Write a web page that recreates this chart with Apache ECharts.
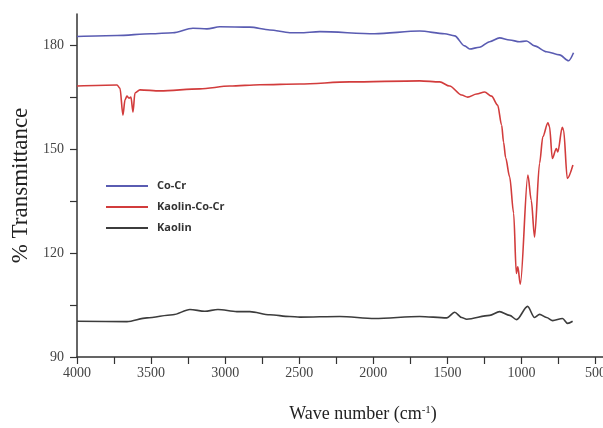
<!DOCTYPE html>
<html>
<head>
<meta charset="utf-8">
<script src="https://cdn.jsdelivr.net/npm/echarts@6/dist/echarts.min.js"></script>
<style>
    html, body { margin: 0; padding: 0; background: #fff; }
    #chart { width: 603px; height: 428px; }
</style>
</head>
<body>
<div id="chart"></div>
<script>
    // wave number (cm-1) , % transmittance
    let coCr = [[4000, 182.5], [3730, 182.8], [3501, 183.3], [3353, 183.6], [3218, 184.9], [3123, 184.7],
        [3036, 185.3], [2833, 185.2], [2699, 184.4], [2564, 183.6], [2496, 183.6], [2361, 183.9],
        [1991, 183.3], [1687, 184.1], [1519, 183.3], [1451, 182.7], [1384, 179.8], [1350, 178.9],
        [1283, 179.4], [1215, 181.0], [1148, 182.1], [1080, 181.5], [1013, 181.0], [966, 181.2],
        [912, 179.8], [831, 178.1], [743, 177.2], [682, 175.5], [649, 177.8]]

    let kaolinCoCr = [[4000, 168.2], [3730, 168.5], [3710, 167.6], [3690, 159.8], [3676, 164.2], [3663, 165.3],
        [3649, 164.7], [3636, 165.0], [3622, 160.7], [3609, 166.2], [3575, 167.1], [3440, 166.8],
        [3171, 167.4], [2968, 168.2], [2766, 168.6], [2496, 168.8], [2159, 169.4], [1687, 169.7],
        [1552, 169.4], [1485, 168.2], [1404, 165.6], [1363, 165.0], [1303, 165.9], [1249, 166.5],
        [1202, 165.3], [1161, 162.7], [1134, 156.9], [1121, 152.0], [1107, 147.5], [1080, 142.0],
        [1053, 131.5], [1035, 114.1], [1025, 116.0], [1008, 111.0], [957, 142.5], [934, 135.2],
        [912, 124.6], [878, 145.9], [856, 153.6], [822, 157.6], [811, 156.5], [792, 147.3],
        [765, 150.2], [755, 149.2], [725, 156.3], [716, 155.5], [691, 141.5], [653, 145.4]]

    let kaolin = [[4000, 100.3], [3663, 100.2], [3528, 101.3], [3353, 102.2], [3238, 103.7], [3137, 103.2],
        [3049, 103.7], [2921, 103.1], [2833, 103.1], [2699, 102.2], [2564, 101.7], [2496, 101.5],
        [2227, 101.7], [1991, 101.1], [1687, 101.7], [1505, 101.3], [1451, 102.9], [1404, 101.4],
        [1370, 100.9], [1215, 102.0], [1148, 103.1], [1080, 102.0], [1033, 100.8], [959, 104.6],
        [912, 101.4], [878, 102.3], [831, 101.4], [790, 100.5], [723, 101.1], [689, 99.7], [655, 100.3]]

    let xLabels = [4000, 3500, 3000, 2500, 2000, 1500, 1000, 500]
    let xTicks = [4000, 3750, 3500, 3250, 3000, 2750, 2500, 2250, 2000, 1750, 1500, 1250, 1000, 750, 500]
    let yLabels = [90, 120, 150, 180]
    let yTicks = [90, 105, 120, 135, 150, 165, 180]

    let names = ['Co-Cr', 'Kaolin-Co-Cr', 'Kaolin']
    let colors = ['#5a5cb2', '#d23c3c', '#3c3c3c']

    let serif = '"Liberation Serif", "DejaVu Serif", serif'

    let mychart = echarts.init(document.getElementById('chart'))
    let axisCommon = {
        axisLine: { lineStyle: { color: '#333', width: 1.5 } },
        axisTick: { inside: false, length: 7, lineStyle: { color: '#333', width: 1.2 } },
        splitLine: { show: false }
    }
    let plainNum = function (v) { return String(v) }
    let option = {
        animation: false,
        color: colors,
        grid: {
            left: 77,
            right: 0,
            top: 14,
            bottom: 71,
            containLabel: false,
            outerBoundsMode: 'none'
        },
        legend: {
            orient: 'vertical',
            left: 101,
            top: 174,
            icon: 'path://M0,0L42,0L42,2L0,2Z',
            itemWidth: 42,
            itemHeight: 2,
            itemGap: 7,
            data: names,
            textStyle: {
                fontFamily: '"Open Sans", sans-serif',
                fontWeight: 'bold',
                fontSize: 11,
                lineHeight: 14,
                color: '#333',
                padding: [0, 0, 0, 4]
            }
        },
        xAxis: Object.assign({}, axisCommon, {
            type: 'value',
            inverse: true,
            min: 450,
            max: 4000,
            axisTick: Object.assign({}, axisCommon.axisTick, { customValues: xTicks }),
            axisLabel: {
                customValues: xLabels,
                formatter: plainNum,
                margin: 9,
                fontFamily: serif,
                fontSize: 14,
                color: '#444'
            },
            name: '{a|Wave number (cm}{s|-1}{a|)}',
            nameLocation: 'middle',
            nameGap: 48,
            nameTextStyle: {
                padding: [0, 0, 0, 46],
                rich: {
                    a: { fontFamily: serif, fontSize: 18, color: '#222' },
                    s: { fontFamily: serif, fontSize: 11, color: '#222', verticalAlign: 'top', padding: [0, 0, 8, 0] }
                }
            }
        }),
        yAxis: Object.assign({}, axisCommon, {
            type: 'value',
            min: 90,
            max: 189,
            axisTick: Object.assign({}, axisCommon.axisTick, { customValues: yTicks }),
            axisLabel: {
                customValues: yLabels,
                formatter: plainNum,
                margin: 13,
                fontFamily: serif,
                fontSize: 14,
                color: '#444'
            },
            name: '% Transmittance',
            nameLocation: 'middle',
            nameGap: 45,
            nameTextStyle: {
                fontFamily: serif,
                fontSize: 23,
                color: '#222'
            }
        }),
        series: [coCr, kaolinCoCr, kaolin].map(function (d, i) {
            return {
                name: names[i],
                type: 'line',
                data: d,
                symbol: 'none',
                smooth: 0.3,
                smoothMonotone: 'x',
                lineStyle: { width: 1.6, color: colors[i] },
                itemStyle: { color: colors[i] }
            }
        })
    }
    mychart.setOption(option)
</script>
</body>
</html>
